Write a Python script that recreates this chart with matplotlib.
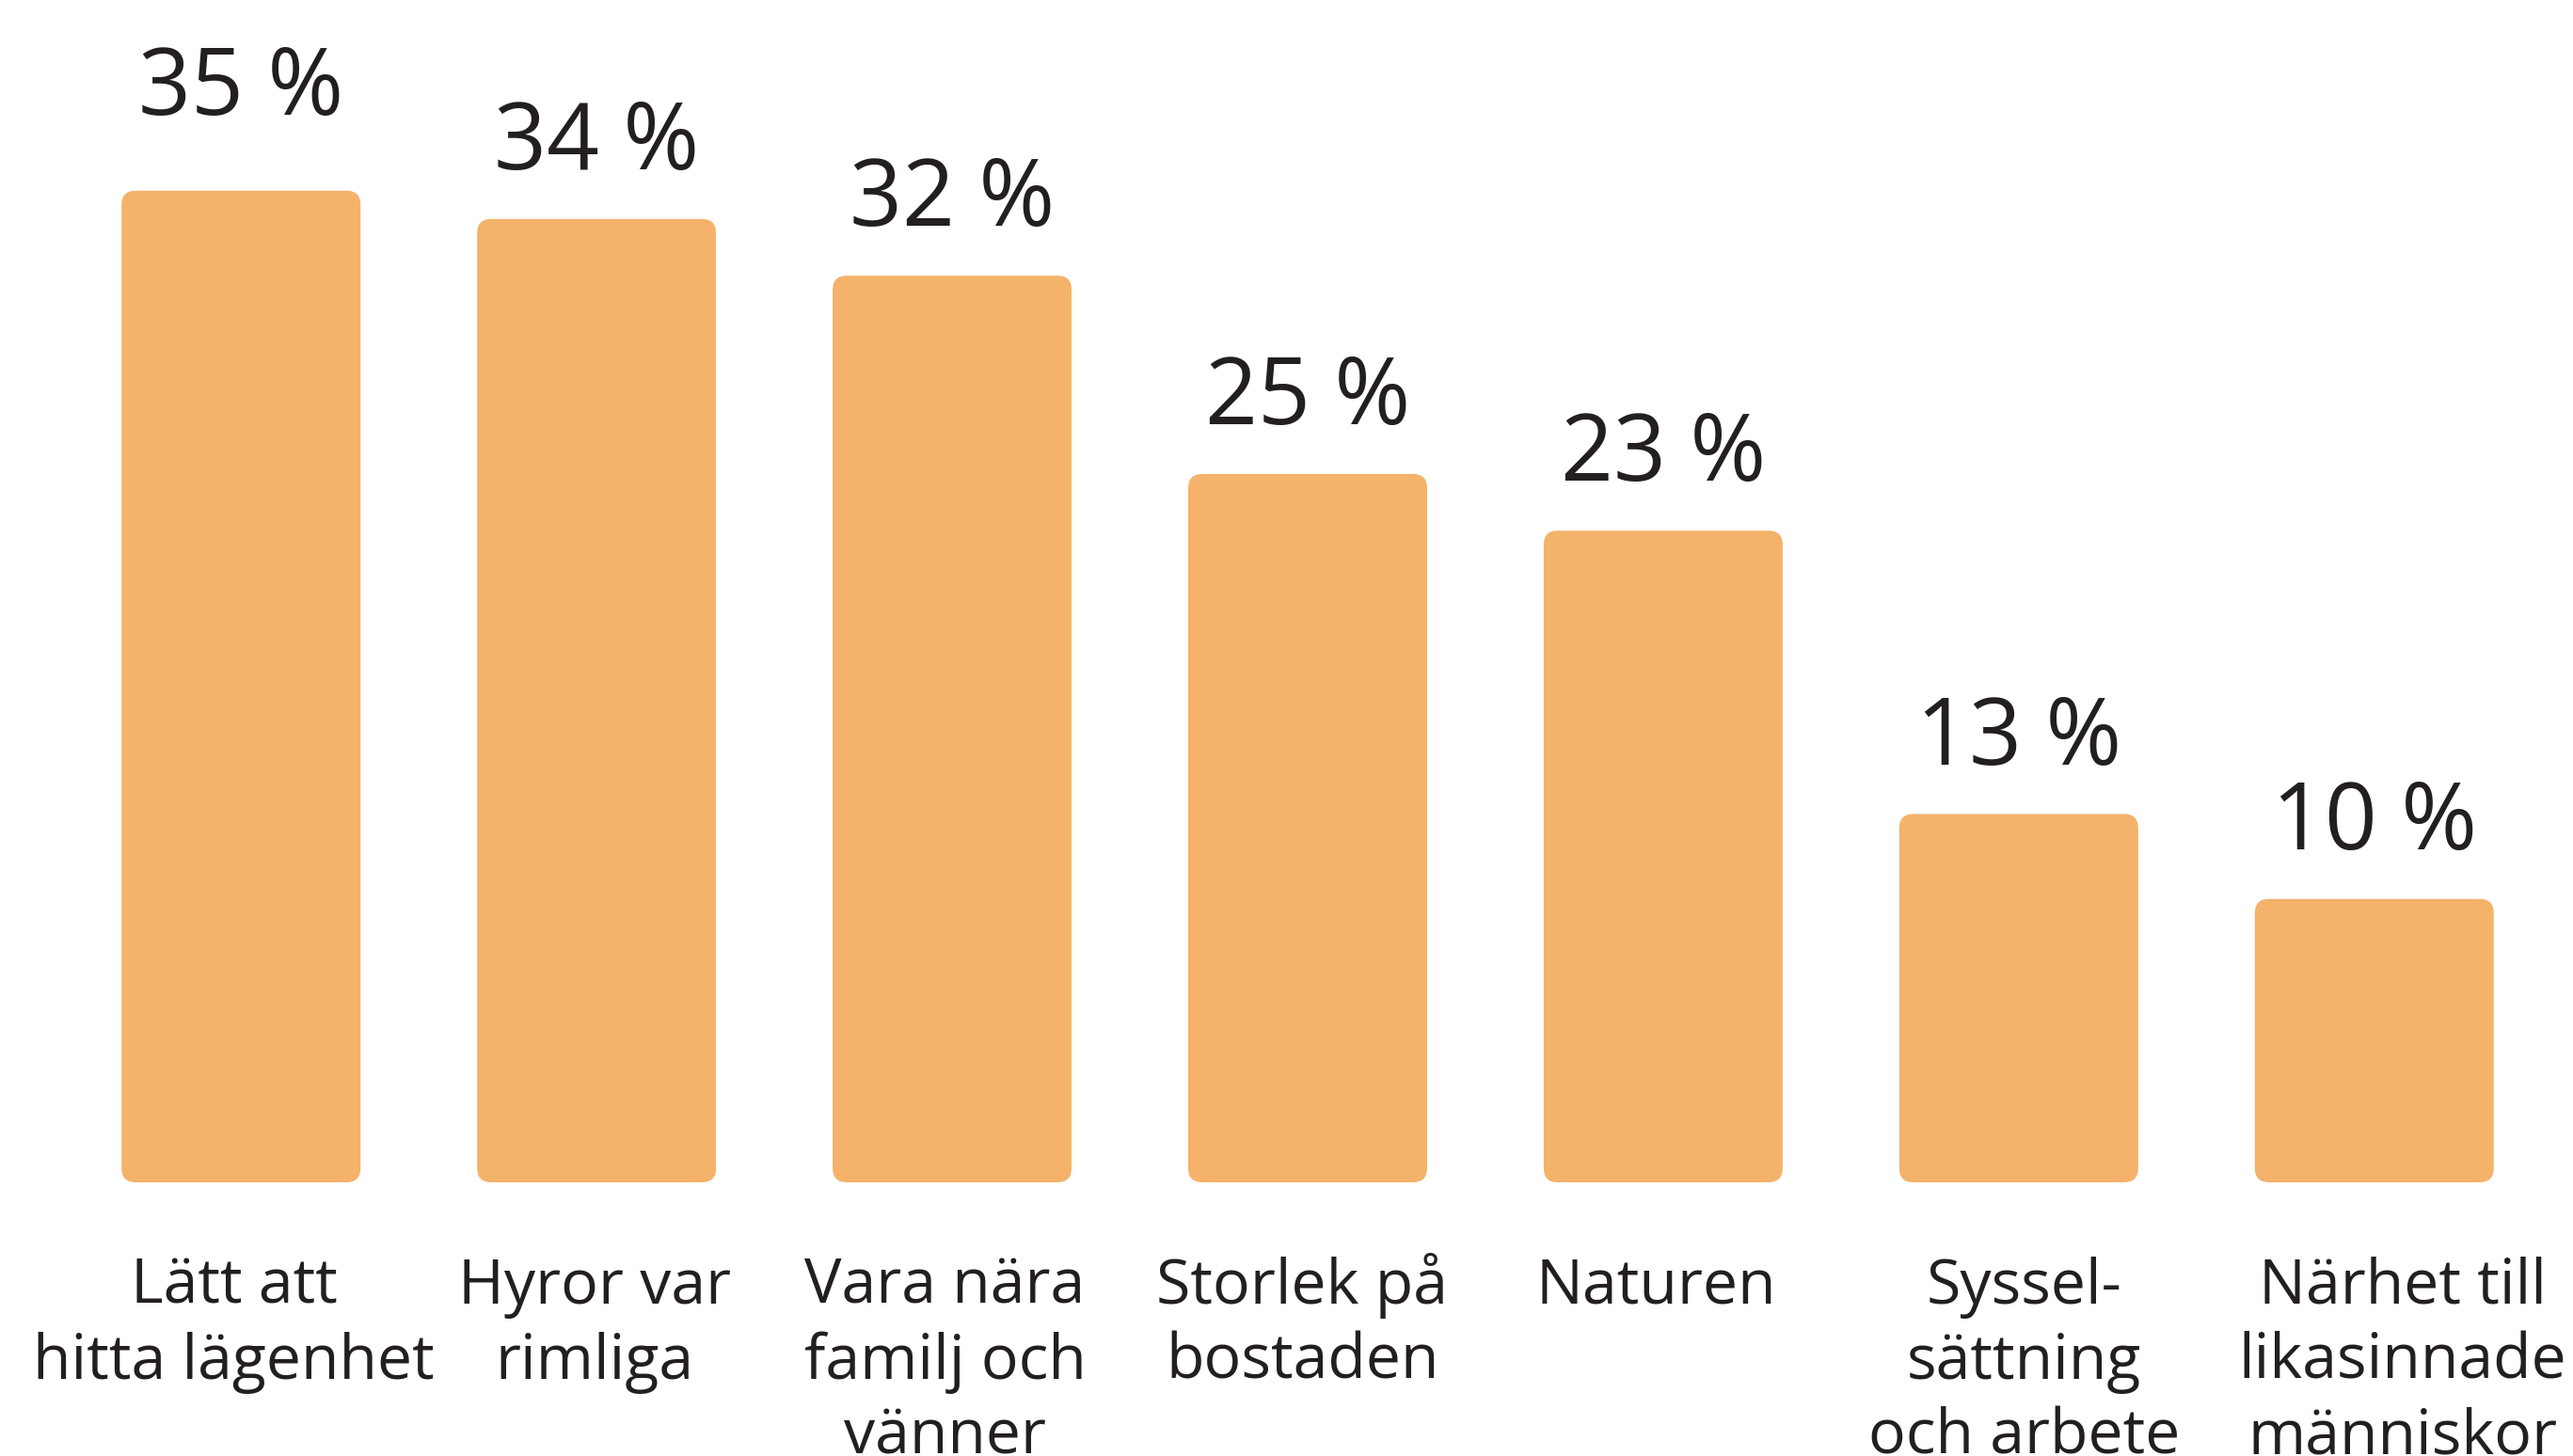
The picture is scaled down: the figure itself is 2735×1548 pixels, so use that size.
import matplotlib
matplotlib.use("Agg")
import matplotlib.pyplot as plt
from matplotlib.patches import FancyBboxPatch

# data
categories = ["Lätt att\nhitta lägenhet", "Hyror var\nrimliga", "Vara nära\nfamilj och\nvänner",
              "Storlek på\nbostaden", "Naturen", "Syssel-\nsättning\noch arbete",
              "Närhet till\nlikasinnade\nmänniskor"]
values = [35, 34, 32, 25, 23, 13, 10]

bar_color = "#F4B26A"
text_color = "#231F20"
plt.rcParams['font.family'] = ['Open Sans', 'DejaVu Sans']

fig = plt.figure(figsize=(27.35, 15.48), dpi=100)
ax = fig.add_axes([0, 0, 1, 1])
ax.set_xlim(-0.678, 6.559)
ax.set_ylim(-9.66, 41.73)
ax.axis('off')

x = list(range(len(values)))
bars = ax.bar(x, values, width=0.672, color=bar_color)

# swap plain rectangles for rounded ones
r = 0.0397
for b in bars:
    x0, y0 = b.get_x(), b.get_y()
    w, h = b.get_width(), b.get_height()
    b.remove()
    ax.add_patch(FancyBboxPatch((x0, y0), w, h,
                                boxstyle="round,pad=0,rounding_size=%f" % r,
                                mutation_aspect=12.55, fc=bar_color, ec="none"))

# value labels (the tallest one sits a bit higher in the original)
for i, v in enumerate(values):
    gap = 2.69 if v == max(values) else 1.75
    ax.text(i, v + gap, "%d %%" % v, ha='center', va='baseline',
            fontsize=70.5, color=text_color)

# category labels, one text per line
shift = [-0.02, -0.005, -0.02, -0.015, -0.02, 0.015, 0.08]
for i, lab in enumerate(categories):
    for j, line in enumerate(lab.split("\n")):
        ax.text(i + shift[i], -4.28 - 2.646 * j, line, ha='center', va='baseline',
                fontsize=47.7, color=text_color)

fig.savefig("out.png", dpi=100)
